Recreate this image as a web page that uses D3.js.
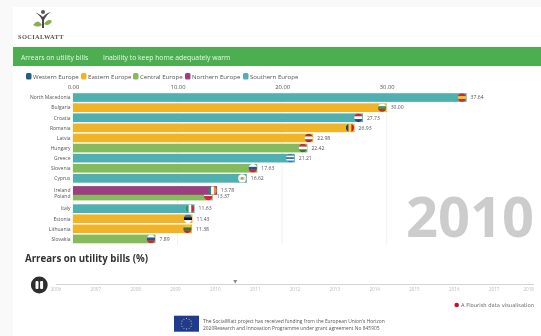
<!DOCTYPE html>
<html lang="en">
<head>
<meta charset="utf-8">
<title>Arrears on utility bills</title>
<script src="https://d3js.org/d3.v7.min.js"></script>
<style>
  html, body { margin: 0; padding: 0; background: #f9f9f9; overflow: hidden; }
  svg { display: block; font-family: "Open Sans", sans-serif; filter: blur(0.35px); }
</style>
</head>
<body>
<svg id="chart" width="541" height="336"></svg>
<script>
// data
var countries = ["North Macedonia", "Bulgaria", "Croatia", "Romania", "Latvia", "Hungary", "Greece", "Slovenia", "Cyprus", "Ireland", "Poland", "Italy", "Estonia", "Lithuania", "Slovakia"];
var values = [37.64, 30.00, 27.73, 26.93, 22.98, 22.42, 21.21, 17.63, 16.62, 13.78, 13.37, 11.63, 11.43, 11.38, 7.89];
var regions = ["Southern Europe", "Eastern Europe", "Southern Europe", "Eastern Europe", "Eastern Europe", "Central Europe", "Southern Europe", "Central Europe", "Southern Europe", "Northern Europe", "Central Europe", "Southern Europe", "Eastern Europe", "Eastern Europe", "Central Europe"];
var legendNames = ["Western Europe", "Eastern Europe", "Central Europe", "Northern Europe", "Southern Europe"];
var legendColours = ["#1d5f8a", "#f0b429", "#85bb5c", "#9c3f7f", "#50b0b0"];
var xTicks = [0, 10, 20, 30];
var years = [2006, 2007, 2008, 2009, 2010, 2011, 2012, 2013, 2014, 2015, 2016, 2017, 2018];
var currentYear = 2010.5;
var tabs = ["Arrears on utility bills", "Inability to keep home adequately warm"];
// flag stripes per country, "h" rows or "v" columns
var flagDirs = ["h", "h", "h", "v", "h", "h", "h", "h", "h", "v", "h", "v", "h", "h", "h"];
var flagStripes = [
  ["#d8232a", "#f2c230", "#d8232a"], ["#ffffff", "#2f9a6a", "#d62612"], ["#d8232a", "#ffffff", "#2a3f8f"],
  ["#2b3f87", "#f6d22c", "#c8202f"], ["#9e3039", "#ffffff", "#9e3039"], ["#cd2a3e", "#ffffff", "#436f4d"],
  ["#3f6fb5", "#ffffff", "#3f6fb5", "#ffffff", "#3f6fb5"], ["#ffffff", "#2a4fa0", "#d8232a"], ["#ffffff", "#f3e6d0", "#ffffff"],
  ["#169b62", "#ffffff", "#f08a33"], ["#ffffff", "#d8233f"], ["#2a9a55", "#ffffff", "#ce2b37"],
  ["#3a78c0", "#111111", "#ffffff"], ["#f4c430", "#2a7a4a", "#c1272d"], ["#ffffff", "#2a4fa0", "#d8232a"]
];

var svg = d3.select("#chart");

// page sheet and header band
svg.append("rect").attr("x", 13).attr("y", 7).attr("width", 528).attr("height", 329).attr("fill", "#fff");
svg.append("rect").attr("x", 13).attr("y", 47).attr("width", 528).attr("height", 19).attr("fill", "#4cae50");
svg.selectAll(".tab").data(tabs).enter().append("text")
  .attr("x", function(d, i) { return i === 0 ? 21 : 103; })
  .attr("y", 59.5).attr("font-size", 6.8).attr("fill", "#eaf6ea")
  .text(function(d) { return d; });

// logo
var logo = svg.append("g").attr("transform", "translate(43,0)");
logo.append("circle").attr("cx", 0).attr("cy", 12).attr("r", 2).attr("fill", "#555");
logo.append("path").attr("d", "M-10.5,11.5 Q-4,13 -1,20 L-1,28 L1,28 L1,20 Q4,14 8,12 Q3,13 0,17 Q-4,13 -10.5,11.5 Z").attr("fill", "#4a4a4a");
logo.append("path").attr("d", "M-10,25 Q-5,18 -1,25 Q-5,28 -10,25 Z").attr("fill", "#88b04b");
logo.append("path").attr("d", "M1,24 Q5,18 9,21 Q6,27 1,24 Z").attr("fill", "#88b04b");
svg.append("text").attr("x", 18).attr("y", 38.5).attr("font-family", "'Liberation Serif', serif").attr("font-size", 6.4)
  .attr("font-weight", 700).attr("letter-spacing", 0.35).attr("fill", "#555").text("SOCIALWATT");

// legend
var legendX = [26, 81, 133, 185, 243];
var legend = svg.selectAll(".legend").data(legendNames).enter().append("g")
  .attr("transform", function(d, i) { return "translate(" + legendX[i] + ",73)"; });
legend.append("rect").attr("width", 5.5).attr("height", 6.5).attr("rx", 1.5)
  .attr("fill", function(d, i) { return legendColours[i]; });
legend.append("text").attr("x", 7).attr("y", 5.7).attr("font-size", 6.1).attr("fill", "#555")
  .text(function(d) { return d; });

// scales
var colour = d3.scaleOrdinal().domain(legendNames).range(legendColours);
var x = d3.scaleLinear().domain([0, 30]).range([73, 386.7]);
var y = d3.scaleBand().domain(countries).range([92.5, 244]).paddingInner(0.14).paddingOuter(0.07);

// Ireland and Poland are caught mid-swap in the frame
function rowShift(d) {
  if (d === "Ireland") return 2;
  if (d === "Poland") return -2.5;
  return 0;
}

// grid lines and top axis
var axis = svg.append("g").attr("transform", "translate(0,92)")
  .call(d3.axisTop(x).tickValues(xTicks).tickSize(0).tickPadding(3).tickFormat(d3.format(".2f")));
axis.select(".domain").remove();
axis.selectAll("text").attr("font-size", 5.8).attr("font-family", "'Open Sans', sans-serif").attr("fill", "#555");
svg.selectAll(".grid").data(xTicks).enter().append("line")
  .attr("x1", function(d) { return x(d); }).attr("x2", function(d) { return x(d); })
  .attr("y1", 92).attr("y2", 245).attr("stroke", "#e8e8e8").attr("stroke-width", 0.6);

// bars
var row = svg.selectAll(".row").data(countries).enter().append("g")
  .attr("class", "row")
  .attr("transform", function(d) { return "translate(0," + (y(d) + rowShift(d)) + ")"; });
row.append("rect").attr("x", x(0))
  .attr("width", function(d, i) { return x(values[i]) - x(0); })
  .attr("height", y.bandwidth())
  .attr("fill", function(d, i) { return colour(regions[i]); });
row.append("text").attr("x", x(0) - 2.5).attr("y", y.bandwidth() / 2 + 1.8)
  .attr("text-anchor", "end").attr("font-size", 5).attr("fill", "#555")
  .text(function(d) { return d; });
row.append("text").attr("x", function(d, i) { return x(values[i]) + 4; }).attr("y", y.bandwidth() / 2 + 1.8)
  .attr("font-size", 5.1).attr("fill", "#555")
  .text(function(d, i) { return values[i].toFixed(2); });

// flags at the bar ends
var defs = svg.append("defs");
row.each(function(d, i) {
  var r = 4.2, cx = x(values[i]) - 4.6, cy = y.bandwidth() / 2;
  defs.append("clipPath").attr("id", "flag" + i).append("circle").attr("cx", cx).attr("cy", cy).attr("r", r);
  var f = d3.select(this).append("g").attr("clip-path", "url(#flag" + i + ")");
  var s = flagStripes[i], step = 2 * r / s.length;
  s.forEach(function(c, k) {
    if (flagDirs[i] === "h") {
      f.append("rect").attr("x", cx - r).attr("y", cy - r + k * step).attr("width", 2 * r).attr("height", step + 0.1).attr("fill", c);
    } else {
      f.append("rect").attr("x", cx - r + k * step).attr("y", cy - r).attr("width", step + 0.1).attr("height", 2 * r).attr("fill", c);
    }
  });
  if (d === "North Macedonia") f.append("circle").attr("cx", cx).attr("cy", cy).attr("r", 1.6).attr("fill", "#f2c230");
  if (d === "Cyprus") f.append("circle").attr("cx", cx).attr("cy", cy).attr("r", 1.4).attr("fill", "#d9903a");
});
// Ireland sits over Poland
row.filter(function(d) { return d === "Ireland"; }).raise();

// big year
svg.append("text").attr("x", 534).attr("y", 237).attr("text-anchor", "end")
  .attr("font-family", "'Open Sans', sans-serif").attr("font-size", 56).attr("font-weight", 700)
  .attr("fill", "#cccccc").text("2010");

// title
svg.append("text").attr("x", 25).attr("y", 262).attr("font-size", 9.7).attr("font-weight", 700)
  .attr("fill", "#333").text("Arrears on utility bills (%)");

// timeline
var t = d3.scaleLinear().domain([2006, 2018]).range([56, 534]);
svg.append("line").attr("x1", t(2006)).attr("x2", t(2018)).attr("y1", 284.5).attr("y2", 284.5)
  .attr("stroke", "#d4d4d4").attr("stroke-width", 1);
svg.selectAll(".year").data(years).enter().append("text")
  .attr("x", function(d) { return t(d); }).attr("y", 291.2)
  .attr("text-anchor", function(d) { return d === 2018 ? "end" : "middle"; })
  .attr("font-size", 4.6).attr("fill", "#bbb").text(function(d) { return d; });
svg.append("path").attr("transform", "translate(" + t(currentYear) + ",283.5)")
  .attr("d", "M-2,-3.5 L2,-3.5 L0,0 Z").attr("fill", "#888");
svg.append("circle").attr("cx", 39.3).attr("cy", 285).attr("r", 8.4).attr("fill", "#2e2e2e");
svg.append("rect").attr("x", 35.5).attr("y", 281).attr("width", 3).attr("height", 8).attr("rx", 1).attr("fill", "#fff");
svg.append("rect").attr("x", 40.1).attr("y", 281).attr("width", 3).attr("height", 8).attr("rx", 1).attr("fill", "#fff");

// flourish credit
svg.append("circle").attr("cx", 456.7).attr("cy", 305).attr("r", 2.3).attr("fill", "#c8102e");
svg.append("text").attr("x", 461).attr("y", 307).attr("font-family", "'DejaVu Sans', sans-serif").attr("font-size", 5.2)
  .attr("fill", "#666").text("A Flourish data visualisation");

// EU flag and funding note
svg.append("rect").attr("x", 174).attr("y", 315.7).attr("width", 25).attr("height", 16).attr("fill", "#1f3a93");
svg.selectAll(".star").data(d3.range(12)).enter().append("circle")
  .attr("cx", function(d) { return 186.5 + 5.2 * Math.cos(d * Math.PI / 6); })
  .attr("cy", function(d) { return 323.7 + 5.2 * Math.sin(d * Math.PI / 6); })
  .attr("r", 0.55).attr("fill", "#f5d000");
svg.append("text").attr("x", 203).attr("y", 322.7).attr("font-size", 4.9).attr("fill", "#555")
  .text("The SocialWatt project has received funding from the European Union's Horizon");
svg.append("text").attr("x", 203).attr("y", 329.7).attr("font-size", 4.9).attr("fill", "#555")
  .text("2020Research and Innovation Programme under grant agreement No 845905");
</script>
</body>
</html>
